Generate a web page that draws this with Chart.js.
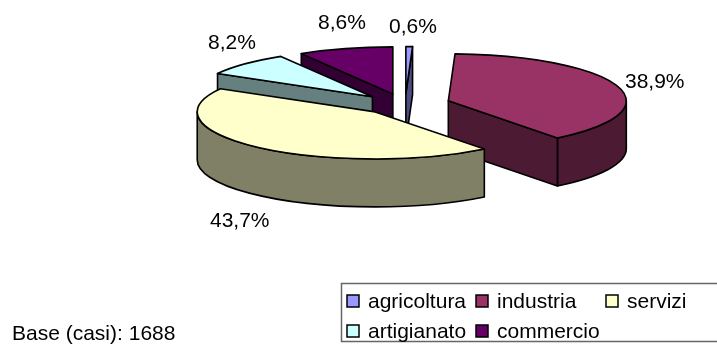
<!DOCTYPE html>
<html>
<head>
<meta charset="utf-8">
<style>
html, body { margin: 0; padding: 0; background: #fff; }
#wrap { width: 717px; height: 353px; position: relative; }
</style>
<script src="https://cdn.jsdelivr.net/npm/chart.js@4"></script>
</head>
<body>
<div id="wrap"><canvas id="pieChart" width="717" height="353"></canvas></div>
<script>
var categories = ['agricoltura', 'industria', 'servizi', 'artigianato', 'commercio'];
var values = [0.6, 38.9, 43.7, 8.2, 8.6];
var valueLabels = ['0,6%', '38,9%', '43,7%', '8,2%', '8,6%'];
var topColors = ['#9999FF', '#993366', '#FFFFCC', '#CCFFFF', '#660066'];
var sideColors = ['#4D4D80', '#4D1A33', '#808066', '#668080', '#330033'];
var baseText = 'Base (casi): 1688';

// painter's order, back slices first
var drawOrder = [0, 4, 3, 1, 2];
var labelPos = [[389, 33], [625, 88], [210, 227], [208, 49], [318, 29]];

var squash = 0.264;
var offsetSquash = 0.23;
var depth = 48;
var font = '21px "Liberation Sans"';

var pie3d = {
    id: 'pie3d',
    beforeDatasetDraw: function (chart) {
        var ctx = chart.ctx;
        var arcs = chart.getDatasetMeta(0).data;
        ctx.save();
        ctx.lineWidth = 1.6;
        ctx.strokeStyle = '#000';
        ctx.lineJoin = 'round';
        drawOrder.forEach(function (i) {
            drawSlice(ctx, arcs[i], i);
        });
        ctx.restore();
        return false;
    },
    afterDraw: function (chart) {
        var ctx = chart.ctx;
        ctx.save();
        ctx.font = font;
        ctx.fillStyle = '#000';
        ctx.textBaseline = 'alphabetic';
        valueLabels.forEach(function (t, i) {
            ctx.fillText(t, labelPos[i][0], labelPos[i][1]);
        });
        ctx.fillText(baseText, 12, 340);
        drawLegend(ctx);
        ctx.restore();
    }
};

function shape(ctx, fill, build) {
    ctx.beginPath();
    build();
    ctx.closePath();
    ctx.fillStyle = fill;
    ctx.fill();
    ctx.stroke();
}

function drawSlice(ctx, arc, i) {
    var a = arc.startAngle, b = arc.endAngle;
    var mid = (a + b) / 2;
    var off = arc.options.offset;
    var cx = arc.x + Math.cos(mid) * off;
    var cy = arc.y + Math.sin(mid) * off * offsetSquash;
    var rx = arc.outerRadius, ry = rx * squash;
    var side = sideColors[i];

    // outer wall, only the part turned to the viewer
    var from = Math.max(a, 0), to = Math.min(b, Math.PI);
    if (to > from) {
        shape(ctx, side, function () {
            ctx.ellipse(cx, cy, rx, ry, 0, from, to);
            ctx.ellipse(cx, cy + depth, rx, ry, 0, to, from, true);
        });
    }
    // straight walls
    [[a, Math.cos(a) < -1e-6], [b, Math.cos(b) > 1e-6]].forEach(function (e) {
        if (!e[1]) return;
        var px = cx + Math.cos(e[0]) * rx, py = cy + Math.sin(e[0]) * ry;
        shape(ctx, side, function () {
            ctx.moveTo(cx, cy);
            ctx.lineTo(px, py);
            ctx.lineTo(px, py + depth);
            ctx.lineTo(cx, cy + depth);
        });
    });
    // top face
    shape(ctx, topColors[i], function () {
        ctx.moveTo(cx, cy);
        ctx.ellipse(cx, cy, rx, ry, 0, a, b);
    });
}

function drawLegend(ctx) {
    var cols = [347, 476, 606];
    var rows = [301, 331];
    ctx.strokeStyle = '#666';
    ctx.lineWidth = 1.5;
    ctx.strokeRect(341.5, 283.5, 380, 58);
    ctx.strokeStyle = '#000';
    categories.forEach(function (name, i) {
        var x = cols[i % 3], y = rows[Math.floor(i / 3)];
        ctx.fillStyle = topColors[i];
        ctx.fillRect(x, y - 6, 12, 12);
        ctx.strokeRect(x, y - 6, 12, 12);
        ctx.fillStyle = '#000';
        ctx.fillText(name, x + 21, y + 7);
    });
}

new Chart(document.getElementById('pieChart').getContext('2d'), {
    type: 'pie',
    plugins: [pie3d],
    data: {
        labels: categories,
        datasets: [{
            data: values,
            backgroundColor: topColors,
            radius: 178,
            offset: 45.5
        }]
    },
    options: {
        responsive: false,
        animation: false,
        radius: 178,
        layout: { padding: { left: 93, bottom: 145 } },
        plugins: {
            legend: { display: false },
            tooltip: { enabled: false }
        }
    }
});
</script>
</body>
</html>
